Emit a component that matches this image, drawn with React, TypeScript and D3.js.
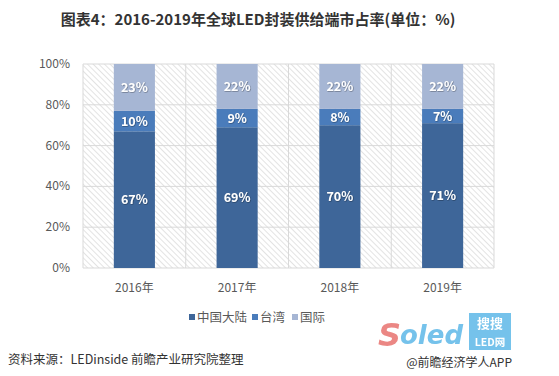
import React from "react";
import * as d3 from "d3";

const categories = ["2016年", "2017年", "2018年", "2019年"];
const seriesNames = ["中国大陆", "台湾", "国际"];
const mainland = [67, 69, 70, 71];
const taiwan = [10, 9, 8, 7];
const international = [23, 22, 22, 22];
const yTicks = [0, 20, 40, 60, 80, 100];

const colors = ["#3e6699", "#4a7cbb", "#a6b6d4"];

export default function App() {
  const W = 559, H = 376;
  const left = 83, right = 494, top = 64, bottom = 268;
  const x = d3.scaleBand<string>().domain(categories).range([left, right]).paddingInner(0).paddingOuter(0);
  const y = d3.scaleLinear().domain([0, 100]).range([bottom, top]);
  const rows = categories.map((c, i) => ({ cat: c, v0: mainland[i], v1: taiwan[i], v2: international[i] }));
  const stack = d3.stack<any>().keys(["v0", "v1", "v2"])(rows);
  const bw = x.bandwidth() * 0.4;
  const font = "'Microsoft YaHei','Noto Sans CJK SC',sans-serif";

  return (
    <svg width={W} height={H} style={{ position: "absolute", left: 0, top: 0, background: "#fff" }} fontFamily={font}>
      <defs>
        <pattern id="hatch" width="4" height="4" patternUnits="userSpaceOnUse" patternTransform="rotate(-45)">
          <line x1="0" y1="0" x2="0" y2="4" stroke="#c8c8c8" strokeWidth="1" />
        </pattern>
        <filter id="sh" x="-20%" y="-20%" width="140%" height="140%">
          <feDropShadow dx="0.5" dy="0.5" stdDeviation="0.5" floodColor="#000" floodOpacity="0.5" />
        </filter>
      </defs>
      <rect width={W} height={H} fill="#fff" />
      <text x={258} y={25} textAnchor="middle" fontSize={15} fontWeight="bold" fill="#333">
        图表4：2016-2019年全球LED封装供给端市占率(单位：%)
      </text>
      <rect x={left} y={top} width={right - left} height={bottom - top} fill="url(#hatch)" />
      {yTicks.map((t) => (
        <g key={t}>
          <line x1={left} x2={right} y1={y(t)} y2={y(t)} stroke="#d9d9d9" strokeWidth={1} />
          <text x={70} y={y(t) + 4} textAnchor="end" fontSize={12} fill="#595959">{t}%</text>
        </g>
      ))}
      {[...categories.map((c) => x(c)!), right].map((v, i) => (
        <line key={i} x1={v} x2={v} y1={top} y2={bottom} stroke="#d9d9d9" strokeWidth={1} />
      ))}
      {stack.map((s, si) =>
        s.map((d, i) => {
          const cx = x(categories[i])! + x.bandwidth() / 2;
          const y0 = y(d[0]), y1 = y(d[1]);
          const val = d[1] - d[0];
          return (
            <g key={si + "-" + i}>
              <rect x={cx - bw / 2} y={y1} width={bw} height={y0 - y1} fill={colors[si]} />
              <text x={cx} y={(y0 + y1) / 2 + 4.5} textAnchor="middle" fontSize={12.5} fontWeight="bold" fill="#fff" filter="url(#sh)">
                {val}%
              </text>
            </g>
          );
        })
      )}
      {categories.map((c) => (
        <text key={c} x={x(c)! + x.bandwidth() / 2} y={292} textAnchor="middle" fontSize={12} fill="#595959">{c}</text>
      ))}
      {(() => {
        const xs = [189, 252, 292];
        return seriesNames.map((n, i) => (
          <g key={n}>
            <rect x={xs[i]} y={314} width={6} height={6} fill={colors[i]} />
            <text x={xs[i] + 8} y={322} fontSize={12.5} fill="#595959">{n}</text>
          </g>
        ));
      })()}
      <text x={8} y={364} fontSize={12.5} fill="#333">资料来源：LEDinside 前瞻产业研究院整理</text>
      <text x={512} y={367} textAnchor="end" fontSize={12} fill="#333">@前瞻经济学人APP</text>
      <g opacity={0.85}>
        <text x={378} y={346} fontSize={32} fontWeight="bold" fontStyle="italic" fill="#e8736f" fontFamily="'DejaVu Sans',sans-serif">S</text>
        <text x={400} y={344} fontSize={26} fontWeight="bold" fontStyle="italic" fill="#5db8e8" fontFamily="'DejaVu Sans',sans-serif">oled</text>
        <rect x={469} y={313} width={42} height={37} fill="#5db8e8" />
        <text x={490} y={328} textAnchor="middle" fontSize={13} fontWeight="bold" fill="#fff">搜搜</text>
        <text x={490} y={346} textAnchor="middle" fontSize={10.5} fontWeight="bold" fill="#fff">LED网</text>
      </g>
    </svg>
  );
}
